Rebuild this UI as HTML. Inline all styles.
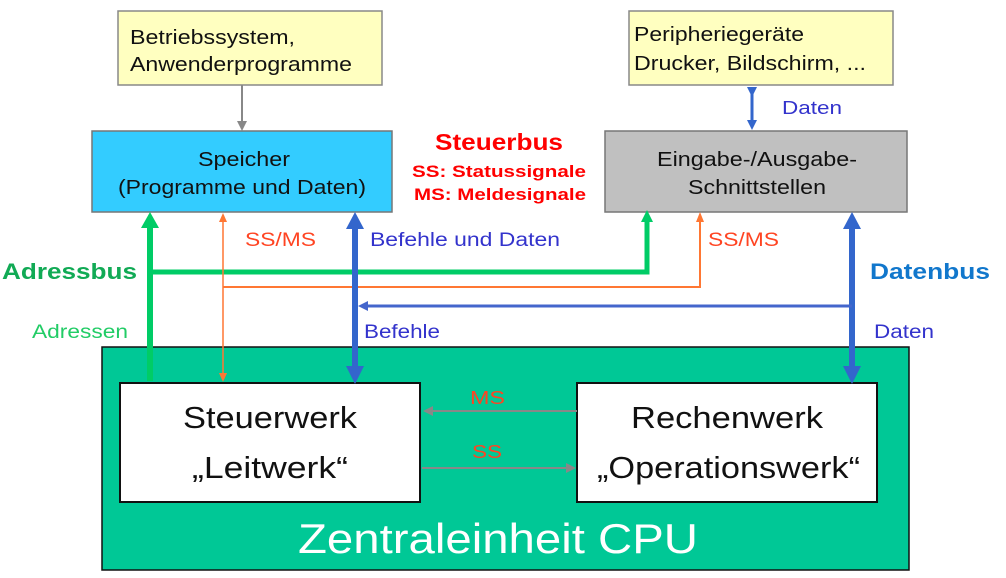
<!DOCTYPE html>
<html><head><meta charset="utf-8"><style>
html,body{margin:0;padding:0;background:#fff;}
svg{display:block;font-family:"Liberation Sans",sans-serif;}
</style></head><body>
<svg width="1006" height="578" viewBox="0 0 1006 578" xmlns="http://www.w3.org/2000/svg">
<defs>
<marker id="gr" markerWidth="10" markerHeight="10" refX="5" refY="5" orient="auto" markerUnits="userSpaceOnUse"><path d="M0,0 L10,5 L0,10 z" fill="#888"/></marker>
<marker id="bs" markerWidth="10" markerHeight="10" refX="5" refY="5" orient="auto" markerUnits="userSpaceOnUse"><path d="M0,0 L10,5 L0,10 z" fill="#3366cc"/></marker>
</defs>
<rect x="118" y="11" width="264" height="74" fill="#ffffc0" stroke="#888" stroke-width="1.5"/>
<text x="130" y="44" font-size="20" fill="#111" textLength="165" lengthAdjust="spacingAndGlyphs">Betriebssystem,</text>
<text x="130" y="71" font-size="20" fill="#111" textLength="222" lengthAdjust="spacingAndGlyphs">Anwenderprogramme</text>
<rect x="629" y="11" width="264" height="74" fill="#ffffc0" stroke="#888" stroke-width="1.5"/>
<text x="634" y="41" font-size="20" fill="#111" textLength="170" lengthAdjust="spacingAndGlyphs">Peripheriegeräte</text>
<text x="634" y="70" font-size="20" fill="#111" textLength="232" lengthAdjust="spacingAndGlyphs">Drucker, Bildschirm, ...</text>
<line x1="242" y1="85" x2="242" y2="126" stroke="#888" stroke-width="2" marker-end="url(#gr)"/>
<line x1="752" y1="92" x2="752" y2="125" stroke="#3366cc" stroke-width="3" marker-start="url(#bs)" marker-end="url(#bs)"/>
<text x="782" y="114" font-size="18" fill="#3333cc" textLength="60" lengthAdjust="spacingAndGlyphs">Daten</text>
<rect x="92" y="131" width="300" height="81" fill="#33ccff" stroke="#777" stroke-width="1.5"/>
<text x="198" y="166" font-size="20" fill="#111" textLength="92" lengthAdjust="spacingAndGlyphs">Speicher</text>
<text x="118" y="194" font-size="20" fill="#111" textLength="248" lengthAdjust="spacingAndGlyphs">(Programme und Daten)</text>
<rect x="605" y="131" width="302" height="81" fill="#c0c0c0" stroke="#777" stroke-width="1.5"/>
<text x="657" y="166" font-size="20" fill="#111" textLength="200" lengthAdjust="spacingAndGlyphs">Eingabe-/Ausgabe-</text>
<text x="688" y="194" font-size="20" fill="#111" textLength="138" lengthAdjust="spacingAndGlyphs">Schnittstellen</text>
<text x="435" y="150" font-size="23" font-weight="bold" fill="#ff0000" textLength="128" lengthAdjust="spacingAndGlyphs">Steuerbus</text>
<text x="412" y="177" font-size="17" font-weight="bold" fill="#ff0000" textLength="174" lengthAdjust="spacingAndGlyphs">SS: Statussignale</text>
<text x="414" y="200" font-size="17" font-weight="bold" fill="#ff0000" textLength="172" lengthAdjust="spacingAndGlyphs">MS: Meldesignale</text>
<rect x="102" y="347" width="807" height="223" fill="#00c896" stroke="#111" stroke-width="1.5"/>
<rect x="120" y="383" width="300" height="119" fill="#fff" stroke="#111" stroke-width="2"/>
<rect x="577" y="383" width="300" height="119" fill="#fff" stroke="#111" stroke-width="2"/>
<text x="183" y="428" font-size="31" fill="#111" textLength="174" lengthAdjust="spacingAndGlyphs">Steuerwerk</text>
<text x="192" y="478" font-size="31" fill="#111" textLength="156" lengthAdjust="spacingAndGlyphs">„Leitwerk“</text>
<text x="631" y="428" font-size="31" fill="#111" textLength="192" lengthAdjust="spacingAndGlyphs">Rechenwerk</text>
<text x="597" y="478" font-size="31" fill="#111" textLength="263" lengthAdjust="spacingAndGlyphs">„Operationswerk“</text>
<text x="298" y="553" font-size="42" fill="#fff" textLength="400" lengthAdjust="spacingAndGlyphs">Zentraleinheit  CPU</text>
<line x1="577" y1="411" x2="428" y2="411" stroke="#888" stroke-width="2" marker-end="url(#gr)"/>
<line x1="422" y1="468" x2="571" y2="468" stroke="#888" stroke-width="2" marker-end="url(#gr)"/>
<text x="470" y="404" font-size="18" fill="#ff4422" textLength="35" lengthAdjust="spacingAndGlyphs">MS</text>
<text x="472" y="458" font-size="18" fill="#ff4422" textLength="30" lengthAdjust="spacingAndGlyphs">SS</text>
<line x1="150" y1="381" x2="150" y2="225" stroke="#00cc66" stroke-width="6"/>
<path d="M141,228 L150,212 L159,228 z" fill="#00cc66"/>
<polyline points="150,272 647,272 647,220" fill="none" stroke="#00cc66" stroke-width="5"/>
<path d="M641,222 L647,210 L653,222 z" fill="#00cc66"/>
<line x1="223" y1="220" x2="223" y2="375" stroke="#ff7733" stroke-width="1.5"/>
<path d="M219,222 L223,213 L227,222 z" fill="#ff7733"/>
<path d="M219,373 L223,382 L227,373 z" fill="#ff7733"/>
<polyline points="223,287 700,287 700,220" fill="none" stroke="#ff7733" stroke-width="2"/>
<path d="M696,222 L700,212 L704,222 z" fill="#ff7733"/>
<line x1="355" y1="226" x2="355" y2="370" stroke="#3366cc" stroke-width="6"/>
<path d="M346,229 L355,212 L364,229 z" fill="#3366cc"/>
<path d="M346,366 L355,384 L364,366 z" fill="#3366cc"/>
<line x1="852" y1="226" x2="852" y2="370" stroke="#3366cc" stroke-width="6"/>
<path d="M843,229 L852,212 L861,229 z" fill="#3366cc"/>
<path d="M843,366 L852,384 L861,366 z" fill="#3366cc"/>
<line x1="852" y1="306" x2="366" y2="306" stroke="#4466cc" stroke-width="3"/>
<path d="M368,301 L358,306 L368,311 z" fill="#4466cc"/>
<text x="2" y="279" font-size="22" font-weight="bold" fill="#11aa55" textLength="135" lengthAdjust="spacingAndGlyphs">Adressbus</text>
<text x="32" y="338" font-size="19" fill="#22cc66" textLength="96" lengthAdjust="spacingAndGlyphs">Adressen</text>
<text x="245" y="246" font-size="19" fill="#ff4422" textLength="71" lengthAdjust="spacingAndGlyphs">SS/MS</text>
<text x="708" y="246" font-size="19" fill="#ff4422" textLength="71" lengthAdjust="spacingAndGlyphs">SS/MS</text>
<text x="370" y="246" font-size="19" fill="#3333cc" textLength="190" lengthAdjust="spacingAndGlyphs">Befehle und Daten</text>
<text x="364" y="338" font-size="19" fill="#3333cc" textLength="76" lengthAdjust="spacingAndGlyphs">Befehle</text>
<text x="870" y="279" font-size="22" font-weight="bold" fill="#1177cc" textLength="120" lengthAdjust="spacingAndGlyphs">Datenbus</text>
<text x="874" y="338" font-size="19" fill="#3333cc" textLength="60" lengthAdjust="spacingAndGlyphs">Daten</text>
</svg>
</body></html>
